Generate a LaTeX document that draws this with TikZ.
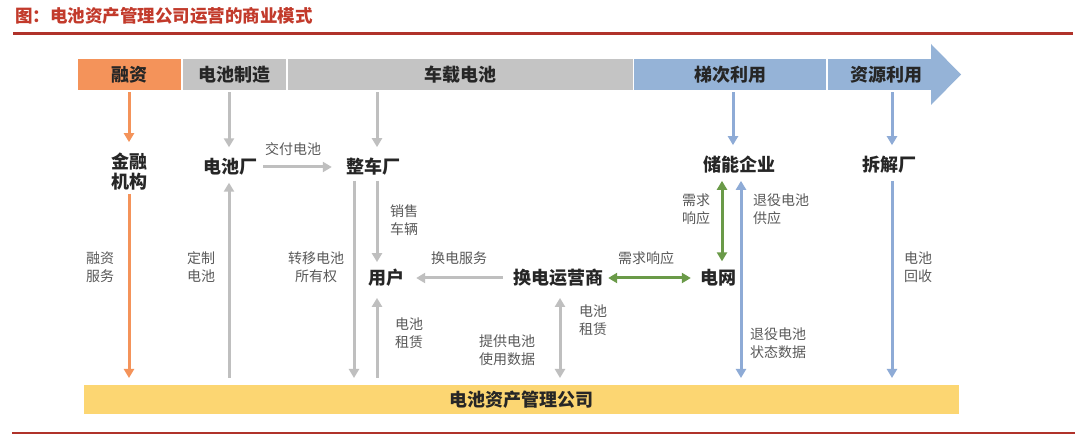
\documentclass[tikz,border=0pt]{standalone}
\usepackage{fontspec}
\setmainfont{Noto Sans CJK SC}
\usetikzlibrary{arrows.meta,calc}
\definecolor{orng}{HTML}{F4935A}
\definecolor{gbar}{HTML}{C4C4C4}
\definecolor{garr}{HTML}{BFBFBF}
\definecolor{bbar}{HTML}{95B3D7}
\definecolor{barr}{HTML}{8EABD6}
\definecolor{ybar}{HTML}{FCD672}
\definecolor{grn}{HTML}{6A9A48}
\definecolor{ttl}{HTML}{C23A2B}
\definecolor{rline}{HTML}{B0322A}
\definecolor{lbl}{HTML}{595959}
\definecolor{ntx}{HTML}{262626}
\begin{document}
\begin{tikzpicture}[x=1pt,y=-1pt,
  seg/.style={draw=none,minimum height=31pt,inner sep=0pt,anchor=north west,
    font=\fontsize{18}{18}\selectfont\bfseries,text=ntx},
  ent/.style={font=\fontsize{18}{20}\selectfont\bfseries,text=ntx,inner sep=0pt,align=center},
  lab/.style={font=\fontsize{14}{18}\selectfont,text=lbl,inner sep=0pt,align=center},
  conn/.style={line width=3pt,-{Triangle[width=10pt,length=9pt]}},
  dconn/.style={line width=3pt,{Triangle[width=10pt,length=9pt]}-{Triangle[width=10pt,length=9pt]}},
]
\useasboundingbox (0,0) rectangle (1080,446);
\fill[white] (0,0) rectangle (1080,446);

% title and rules
\node[anchor=west,inner sep=0pt,font=\fontsize{17.5}{17.5}\selectfont\bfseries,text=ttl] (title) at (15,15.5) {图：电池资产管理公司运营的商业模式};
\draw[rline,line width=2.2pt] (13,33.5) -- (1073,33.5);
\draw[rline,line width=2.2pt] (12,433) -- (1075,433);

% top stage bar
\node[seg,fill=orng,minimum width=102.5pt] (s1) at (78,59) {融资};
\node[seg,fill=gbar,minimum width=103pt] (s2) at (182.5,59) {电池制造};
\node[seg,fill=gbar,minimum width=345pt] (s3) at (287.5,59) {车载电池};
\node[seg,fill=bbar,minimum width=192pt] (s4) at (634,59) {梯次利用};
\fill[bbar] (931,44) -- (961,74.5) -- (931,105) -- cycle;
\node[seg,fill=bbar,minimum width=116pt] (s5) at (828,59) {资源利用};

% bottom bar
\node[draw=none,fill=ybar,minimum width=875pt,minimum height=29pt,inner sep=0pt,anchor=north west,
  font=\fontsize{18}{18}\selectfont\bfseries,text=ntx] (bb) at (84,385) {电池资产管理公司};

% entities
\node[ent] (jr) at (129,172) {金融\\机构};
\node[ent] (dc) at (230,167) {电池厂};
\node[ent] (zc) at (373,167) {整车厂};
\node[ent] (yh) at (386,278) {用户};
\node[ent] (hd) at (558,278) {换电运营商};
\node[ent] (dw) at (718,278) {电网};
\node[ent] (cn) at (739,165) {储能企业};
\node[ent] (cj) at (889,165) {拆解厂};

% labels
\node[lab] (l1) at (293,149) {交付电池};
\node[lab] (l2) at (100,267) {融资\\服务};
\node[lab] (l3) at (201,267) {定制\\电池};
\node[lab] (l4) at (316,267) {转移电池\\所有权};
\node[lab] (l5) at (404,220) {销售\\车辆};
\node[lab] (l6) at (459,258) {换电服务};
\node[lab] (l7) at (409,333.5) {电池\\租赁};
\node[lab] (l8) at (507,350) {提供电池\\使用数据};
\node[lab] (l9) at (593,320.5) {电池\\租赁};
\node[lab] (l10) at (646,258) {需求响应};
\node[lab] (l11) at (696,209.5) {需求\\响应};
\node[lab,anchor=west,align=left] (l12) at (753,209.5) {退役电池\\供应};
\node[lab,anchor=west,align=left] (l13) at (750,343.5) {退役电池\\状态数据};
\node[lab] (l14) at (918,267) {电池\\回收};

% arrows from stage bar
\draw[conn,orng,shorten <=2pt,shorten >=11pt] (s1.south -| jr.north) -- (jr.north);
\draw[conn,garr,shorten <=2pt,shorten >=11pt] ($(s2.south -| dc.north)+(-1,0)$) -- ($(dc.north)+(-1,0)$);
\draw[conn,garr,shorten <=2pt,shorten >=11pt] ($(s3.south -| zc.north)+(4,0)$) -- ($(zc.north)+(4,0)$);
\draw[conn,barr,shorten <=2pt,shorten >=11pt] ($(s4.south -| cn.north)+(-6,0)$) -- ($(cn.north)+(-6,0)$);
\draw[conn,barr,shorten <=2pt,shorten >=11pt] ($(s5.south -| cj.north)+(3,0)$) -- ($(cj.north)+(3,0)$);

% flows
\draw[conn,orng,shorten <=3pt,shorten >=7pt] (jr.south) -- (jr.south |- bb.north);
\draw[conn,garr,shorten <=7pt,shorten >=7pt] ($(dc.south |- bb.north)+(-1,0)$) -- ($(dc.south)+(-1,0)$);
\draw[conn,garr,shorten <=6pt,shorten >=14pt] (dc.east) -- (dc.east -| zc.west);
\draw[conn,garr,shorten <=5pt,shorten >=7pt] ($(zc.south)+(-19,0)$) -- ($(zc.south |- bb.north)+(-19,0)$);
\draw[conn,garr,shorten <=5pt,shorten >=7pt] ($(zc.south)+(4,0)$) -- ($(zc.south |- yh.north)+(4,0)$);
\draw[conn,garr,shorten <=7pt,shorten >=11pt] ($(yh.south |- bb.north)+(-9,0)$) -- ($(yh.south)+(-9,0)$);
\draw[conn,garr,shorten <=10pt,shorten >=12pt] (hd.west) -- (hd.west -| yh.east);
\draw[dconn,grn,shorten <=5pt,shorten >=9pt] (hd.east) -- (hd.east -| dw.west);
\draw[dconn,grn,shorten <=8pt,shorten >=7pt] ($(dw.north)+(4,0)$) -- ($(dw.north |- cn.south)+(4,0)$);
\draw[dconn,barr,shorten <=7pt,shorten >=7pt] ($(cn.south)+(2,0)$) -- ($(cn.south |- bb.north)+(2,0)$);
\draw[conn,barr,shorten <=7pt,shorten >=7pt] ($(cj.south)+(3,0)$) -- ($(cj.south |- bb.north)+(3,0)$);
\draw[dconn,garr,shorten <=11pt,shorten >=7pt] ($(hd.south)+(2,0)$) -- ($(hd.south |- bb.north)+(2,0)$);
\end{tikzpicture}
\end{document}
